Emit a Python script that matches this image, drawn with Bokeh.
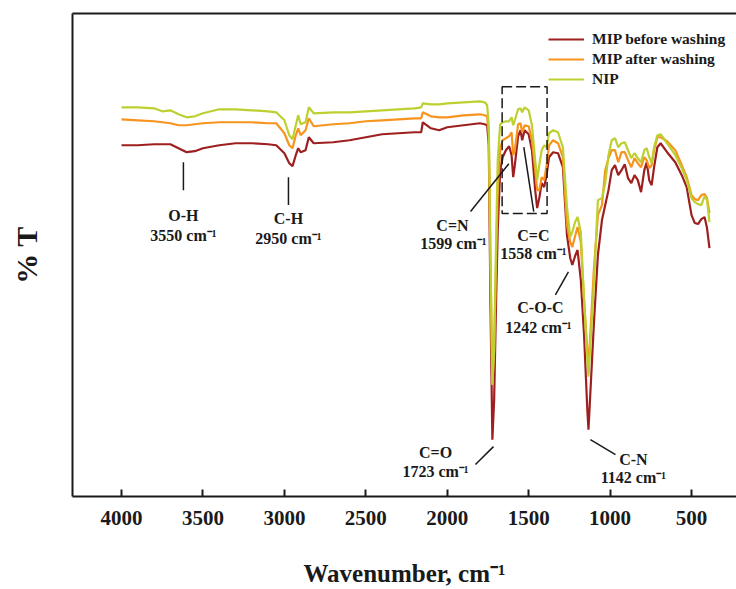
from bokeh.plotting import figure
from bokeh.models import Range1d, FixedTicker, LinearAxis, Legend, LegendItem
from bokeh.core.properties import value
from bokeh.embed import file_html
from bokeh.resources import INLINE

# ---------------- data ----------------
wavenumber = [
    4000, 3900, 3800, 3750, 3700, 3650, 3600, 3550, 3500, 3400,
    3300, 3200, 3100, 3050, 3000, 2970, 2950, 2930, 2915, 2900,
    2870, 2850, 2820, 2700, 2600, 2500, 2400, 2300, 2200, 2160,
    2150, 2100, 2050, 2000, 1900, 1800, 1770, 1755, 1745, 1735,
    1723, 1712, 1700, 1690, 1675, 1660, 1640, 1620, 1605, 1595,
    1585, 1565, 1550, 1540, 1525, 1500, 1480, 1460, 1448, 1435,
    1420, 1405, 1390, 1375, 1350, 1320, 1290, 1265, 1245, 1232,
    1215, 1200, 1180, 1160, 1140, 1133, 1125, 1100, 1075, 1050,
    1030, 1010, 990, 970, 950, 930, 910, 890, 870, 850,
    830, 810, 790, 775, 760, 745, 730, 710, 690, 650,
    600, 560, 530, 500, 480, 460, 440, 420, 405, 390,
]

mip_before = [
    71.0, 71.0, 71.2, 71.2, 71.2, 70.4, 69.6, 69.8, 70.4, 71.0,
    71.4, 71.4, 71.2, 71.0, 69.4, 67.4, 66.8, 69.0, 70.4, 69.6,
    70.0, 72.6, 71.4, 71.6, 72.0, 72.6, 73.2, 73.4, 73.6, 73.6,
    75.6, 74.4, 74.0, 74.6, 75.0, 75.4, 75.2, 75.0, 71.0, 40.0,
    12.0, 20.0, 40.0, 54.0, 66.0, 68.6, 70.0, 70.8, 69.0, 64.6,
    67.0, 72.8, 74.0, 72.0, 74.0, 73.2, 70.0, 62.0, 58.4, 60.4,
    63.4, 62.6, 65.0, 68.6, 69.6, 69.4, 66.6, 53.0, 48.4, 47.0,
    48.8, 50.0, 44.0, 33.0, 18.0, 14.0, 19.0, 35.0, 49.0, 56.0,
    59.0, 62.0, 66.0, 67.0, 65.0, 66.0, 67.2, 64.4, 63.4, 65.0,
    64.0, 61.6, 66.0, 67.6, 64.0, 63.0, 66.6, 70.6, 71.4, 69.6,
    67.6, 65.0, 62.6, 57.0, 55.4, 55.2, 56.2, 56.6, 54.4, 50.4,
]

mip_after = [
    76.2, 76.0, 75.8, 75.6, 75.4, 75.0, 75.0, 75.2, 75.4, 75.6,
    75.6, 75.6, 75.4, 75.4, 73.4, 71.0, 70.4, 73.0, 74.4, 73.0,
    74.0, 76.4, 74.8, 75.2, 75.4, 75.8, 76.0, 76.2, 76.4, 76.4,
    77.6, 76.8, 76.6, 76.6, 77.0, 77.2, 77.0, 76.8, 73.0, 48.0,
    23.0, 30.0, 48.0, 62.0, 70.4, 72.0, 72.4, 72.8, 73.6, 69.0,
    70.0, 75.2, 75.4, 73.6, 75.0, 74.8, 72.0, 66.0, 62.0, 62.0,
    64.6, 64.0, 67.0, 71.0, 72.0, 71.4, 68.6, 55.0, 51.6, 50.6,
    52.8, 54.6, 51.6, 40.0, 30.0, 27.0, 31.0, 46.0, 57.0, 59.0,
    66.0, 68.4, 70.0, 70.0, 67.6, 69.6, 69.6, 68.0, 66.6, 68.4,
    67.4, 66.6, 68.6, 68.0, 66.4, 67.0, 70.0, 72.6, 72.6, 71.8,
    70.0, 67.0, 64.6, 61.0, 60.2, 60.0, 61.0, 61.2, 60.4, 57.4,
]

nip = [
    78.6, 78.6, 78.4, 77.8, 78.0, 77.2, 76.6, 76.8, 77.4, 78.2,
    78.2, 78.0, 77.8, 77.6, 76.0, 73.0, 72.2, 75.0, 77.0, 75.2,
    75.6, 78.6, 77.4, 77.6, 77.6, 77.8, 78.0, 78.2, 78.4, 78.6,
    79.4, 79.2, 79.2, 79.4, 79.6, 79.8, 79.6, 79.0, 75.0, 50.0,
    23.0, 30.0, 52.0, 68.0, 75.2, 75.6, 75.8, 75.8, 76.6, 75.0,
    76.0, 78.2, 78.4, 77.6, 78.6, 78.0, 75.0, 68.0, 64.0, 67.0,
    70.0, 71.0, 70.6, 73.4, 74.0, 73.6, 70.6, 58.6, 52.6, 53.6,
    55.6, 56.6, 53.6, 40.0, 28.0, 24.6, 29.0, 43.0, 60.0, 60.4,
    63.4, 69.0, 72.0, 72.4, 70.6, 71.4, 71.6, 70.0, 68.4, 69.4,
    68.4, 67.6, 70.0, 70.4, 68.6, 67.4, 70.6, 73.0, 73.2, 71.4,
    69.0, 66.4, 64.0, 60.4, 59.6, 59.2, 59.0, 60.8, 60.0, 55.6,
]

series_names = ["MIP before washing", "MIP after washing", "NIP"]
x_ticks = [4000, 3500, 3000, 2500, 2000, 1500, 1000, 500]

ann_names = ["O-H", "C-H", "C=N", "C=C", "C-O-C", "C=O", "C-N"]
ann_values = ["3550 cm\u207b\u00b9", "2950 cm\u207b\u00b9", "1599 cm\u207b\u00b9",
              "1558 cm\u207b\u00b9", "1242 cm\u207b\u00b9", "1723 cm\u207b\u00b9",
              "1142 cm\u207b\u00b9"]

x_title = "Wavenumber, cm\u207b\u00b9"
y_title = "% T"

# ---------------- layout / style ----------------
FONT = "Liberation Serif"
INK = "#1a1a1a"
C_BEFORE = "#9e1f1f"
C_AFTER = "#f7941d"
C_NIP = "#bdd02f"

p = figure(width=736, height=589,
           x_range=Range1d(4301, 224), y_range=Range1d(0.6, 97.4),
           output_backend="svg", toolbar_location=None,
           min_border_left=72, min_border_right=0,
           min_border_top=13, min_border_bottom=92)
p.outline_line_color = None
p.grid.visible = False
p.background_fill_color = "white"
p.border_fill_color = "white"

# bottom axis
xa = p.xaxis[0]
xa.ticker = FixedTicker(ticks=x_ticks)
xa.minor_tick_line_color = None
xa.major_tick_in = 7
xa.major_tick_out = 0
xa.major_tick_line_width = 2
xa.major_tick_line_color = INK
xa.axis_line_width = 2
xa.axis_line_color = INK
xa.major_label_text_font = FONT
xa.major_label_text_font_style = "bold"
xa.major_label_text_font_size = "21px"
xa.major_label_text_color = INK
xa.major_label_standoff = 14
xa.axis_label = x_title
xa.axis_label_text_font = FONT
xa.axis_label_text_font_style = "bold"
xa.axis_label_text_font_size = "25px"
xa.axis_label_text_color = INK
xa.axis_label_standoff = 32

# left axis
ya = p.yaxis[0]
ya.ticker = FixedTicker(ticks=[])
ya.major_tick_in = 0
ya.major_tick_out = 0
ya.minor_tick_line_color = None
ya.major_label_text_font_size = "0px"
ya.major_label_standoff = 0
ya.axis_line_width = 2
ya.axis_line_color = INK
ya.axis_label = y_title
ya.axis_label_text_font = FONT
ya.axis_label_text_font_style = "bold"
ya.axis_label_text_font_size = "30px"
ya.axis_label_text_color = INK
ya.axis_label_standoff = 30

# top frame line
top = LinearAxis(ticker=FixedTicker(ticks=[]), major_label_text_font_size="0px",
                 major_tick_in=0, major_tick_out=0, minor_tick_line_color=None,
                 major_label_standoff=0, axis_line_width=2, axis_line_color=INK)
p.add_layout(top, "above")

# spectra
r_before = p.line(wavenumber, mip_before, line_color=C_BEFORE, line_width=2.2)
r_after = p.line(wavenumber, mip_after, line_color=C_AFTER, line_width=2.2)
r_nip = p.line(wavenumber, nip, line_color=C_NIP, line_width=2.2)

# dashed box around 1600-1400 region
p.quad(left=[1663], right=[1387], top=[82.7], bottom=[57.3],
       fill_color=None, line_color=INK, line_width=1.5, line_dash="10 4")

# leader lines
p.segment(x0=[3620, 2975, 1857, 1530, 1336, 1827, 1121],
          y0=[67.6, 64.6, 57.7, 70.6, 41.0, 7.0, 12.0],
          x1=[3620, 2975, 1622, 1469, 1256, 1716, 967],
          y1=[62.0, 59.0, 67.3, 57.7, 45.6, 10.6, 9.0],
          line_color=INK, line_width=1.5)

# annotation texts
name_x = [3620, 2975, 1968, 1471, 1428, 2072, 857]
name_y = [57.0, 56.4, 55.0, 53.0, 38.4, 9.4, 8.0]
val_x = [3620, 2975, 1962, 1471, 1440, 2072, 857]
val_y = [53.0, 52.4, 51.4, 49.4, 34.4, 5.6, 4.4]
common = dict(text_font=value(FONT), text_font_style="bold", text_font_size="16px",
              text_align="center", text_baseline="middle", text_color=INK)
p.text(x=name_x, y=name_y, text=ann_names, **common)
p.text(x=val_x, y=val_y, text=ann_values, **common)

legend = Legend(items=[LegendItem(label=series_names[0], renderers=[r_before]),
                       LegendItem(label=series_names[1], renderers=[r_after]),
                       LegendItem(label=series_names[2], renderers=[r_nip])],
                location=(476, 407), padding=0, margin=0, spacing=0,
                glyph_width=36, glyph_height=20, label_height=20, label_standoff=8,
                label_text_font=FONT, label_text_font_style="bold",
                label_text_font_size="15.5px", label_text_color=INK,
                border_line_color=None, background_fill_alpha=0)
p.add_layout(legend, "center")

open("out.html", "w").write(file_html(p, INLINE))
